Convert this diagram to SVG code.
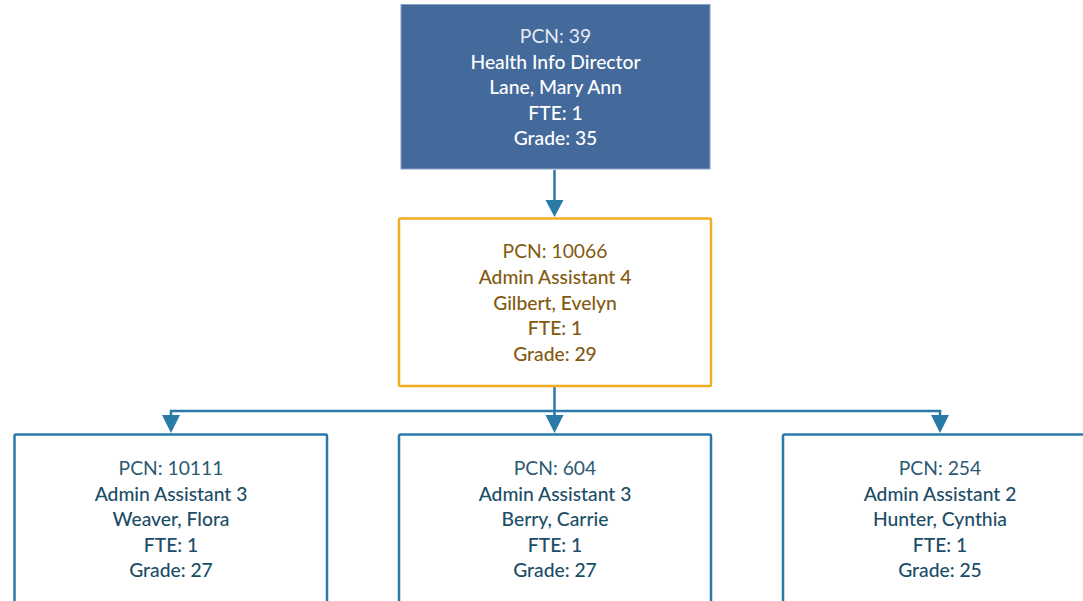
<svg xmlns="http://www.w3.org/2000/svg" width="1083" height="601" viewBox="0 0 1083 601">
<defs>
<style>
text{font-family:Lato,"Open Sans","Liberation Sans",sans-serif;font-size:19.3px;text-anchor:middle}
.b{font-weight:500}
.top text{fill:#ffffff}
.top .p{fill:#e6ebf3}
.mid text{fill:#835a10}
.bot text{fill:#1c4d66}
.bot .p{fill:#2c5a72}
.c{fill:none;stroke:#2a7aa8;stroke-width:2.5}
</style>
</defs>
<rect width="1083" height="601" fill="#ffffff"/>
<g id="connectors">
<path class="c" d="M554.5,170 V200"/>
<path d="M545.5,200 L563.5,200 L554.5,217 z" fill="#2a7aa8"/>
<path class="c" d="M554.5,387 V416 M171,416 V411 H940 V416"/>
<path d="M162,415 L180,415 L171,433 z" fill="#2a7aa8"/>
<path d="M545.5,415 L563.5,415 L554.5,433 z" fill="#2a7aa8"/>
<path d="M931,415 L949,415 L940,433 z" fill="#2a7aa8"/>
</g>
<g id="node-39" class="top">
<rect x="401" y="4.5" width="309" height="164.5" fill="#44699b" stroke="#8aa2c4" stroke-width="1"/>
<text class="p" x="555.5" y="43">PCN: 39</text>
<text class="b" x="555.5" y="68.5">Health Info Director</text>
<text class="b" x="555.5" y="94">Lane, Mary Ann</text>
<text class="b" x="555.5" y="119.5">FTE: 1</text>
<text class="b" x="555.5" y="145">Grade: 35</text>
</g>
<g id="node-10066" class="mid">
<rect x="399" y="218.5" width="312" height="167.5" fill="#ffffff" stroke="#f0ac22" stroke-width="2.5" rx="1.5"/>
<text x="555" y="258">PCN: 10066</text>
<text class="b" x="555" y="284">Admin Assistant 4</text>
<text class="b" x="555" y="309.5">Gilbert, Evelyn</text>
<text class="b" x="555" y="335">FTE: 1</text>
<text class="b" x="555" y="360.5">Grade: 29</text>
</g>
<g id="node-10111" class="bot">
<rect x="14.5" y="434.5" width="312.5" height="180" fill="#ffffff" stroke="#2a7aa8" stroke-width="2.5" rx="1.5"/>
<text class="p" x="171" y="475">PCN: 10111</text>
<text class="b" x="171" y="500.5">Admin Assistant 3</text>
<text class="b" x="171" y="526">Weaver, Flora</text>
<text class="b" x="171" y="551.5">FTE: 1</text>
<text class="b" x="171" y="577">Grade: 27</text>
</g>
<g id="node-604" class="bot">
<rect x="399" y="434.5" width="312" height="180" fill="#ffffff" stroke="#2a7aa8" stroke-width="2.5" rx="1.5"/>
<text class="p" x="555" y="475">PCN: 604</text>
<text class="b" x="555" y="500.5">Admin Assistant 3</text>
<text class="b" x="555" y="526">Berry, Carrie</text>
<text class="b" x="555" y="551.5">FTE: 1</text>
<text class="b" x="555" y="577">Grade: 27</text>
</g>
<g id="node-254" class="bot">
<rect x="783" y="434.5" width="313" height="180" fill="#ffffff" stroke="#2a7aa8" stroke-width="2.5" rx="1.5"/>
<text class="p" x="940" y="475">PCN: 254</text>
<text class="b" x="940" y="500.5">Admin Assistant 2</text>
<text class="b" x="940" y="526">Hunter, Cynthia</text>
<text class="b" x="940" y="551.5">FTE: 1</text>
<text class="b" x="940" y="577">Grade: 25</text>
</g>
</svg>
